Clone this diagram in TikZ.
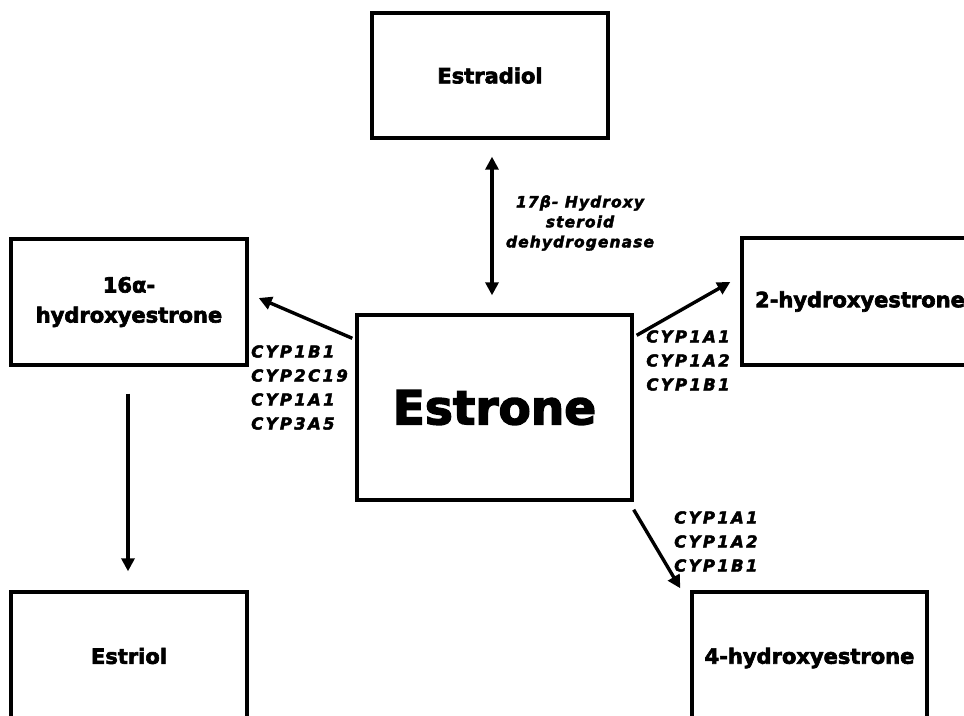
\documentclass[tikz,border=0pt]{standalone}
\usepackage{fontspec}
\setmainfont{DejaVu Sans}
\newfontfamily\boxfont[BoldFeatures={FakeBold=3}]{DejaVu Sans}
\newfontfamily\labfont[LetterSpace=14, BoldItalicFeatures={FakeBold=2.5}]{DejaVu Sans}
\newfontfamily\enzfont[LetterSpace=7, BoldItalicFeatures={FakeBold=2.5}]{DejaVu Sans}
\usetikzlibrary{arrows.meta,calc}
\begin{document}
\begin{tikzpicture}[x=1pt,y=-1pt,
  box/.style={draw, line width=3.4pt, fill=white, minimum width=236pt, inner sep=0pt, align=center, font=\boxfont\fontsize{21}{30}\selectfont\bfseries},
  arr/.style={line width=3.4pt, -{Triangle[length=13pt,width=13pt]}},
  darr/.style={line width=3.4pt, {Triangle[length=13pt,width=13pt]}-{Triangle[length=13pt,width=13pt]}},
  cyp/.style={inner sep=0pt, font=\labfont\fontsize{16.5}{24}\selectfont\bfseries\itshape},
  enz/.style={inner sep=0pt, align=center, font=\enzfont\fontsize{15.5}{20}\selectfont\bfseries\itshape},
]
\useasboundingbox (0,0) rectangle (964,715);
\clip (0,0) rectangle (964,715);
\fill[white] (0,0) rectangle (964,715);

\node[box, minimum height=125pt] (estradiol) at (490,75.5) {Estradiol};
\node[box, minimum height=126pt] (hyd16) at (129,302) {16α-\\hydroxyestrone};
\node[box, minimum width=275pt, minimum height=185pt, font=\boxfont\fontsize{47}{58}\selectfont\bfseries] (estrone) at (494.5,407.5) {Estrone};
\node[box, minimum height=127pt] (hyd2) at (860,301.5) {2-hydroxyestrone};
\node[box, minimum width=235pt, minimum height=132pt] (hyd4) at (809.5,658) {4-hydroxyestrone};
\node[box, minimum height=128pt] (estriol) at (129,656) {Estriol};

\draw[darr] ($(estradiol.south)+(2,17)$) -- ($(estrone.north)+(-2.5,-18)$);
\draw[arr] ($(estrone.north west)+(-3,25)$) -- ($(hyd16.east)+(10,-4)$);
\draw[arr] ($(estrone.north east)+(3,22)$) -- ($(hyd2.west)+(-10,-19.5)$);
\draw[arr] ($(estrone.south east)+(0,8)$) -- ($(hyd4.north west)+(-10,-2)$);
\draw[arr] ($(hyd16.south)+(-1,27)$) -- ($(estriol.north)+(-1,-19)$);

\node[enz] (enzlab) at (580,223) {17β- Hydroxy\\steroid\\dehydrogenase};
\node[cyp, align=left, anchor=west] (lab16) at (251,387.5) {CYP1B1\\CYP2C19\\CYP1A1\\CYP3A5};
\node[cyp, align=center] (lab2) at (688,360.5) {CYP1A1\\CYP1A2\\CYP1B1};
\node[cyp, align=left, anchor=west] (lab4) at (674,541.5) {CYP1A1\\CYP1A2\\CYP1B1};
\end{tikzpicture}
\end{document}
